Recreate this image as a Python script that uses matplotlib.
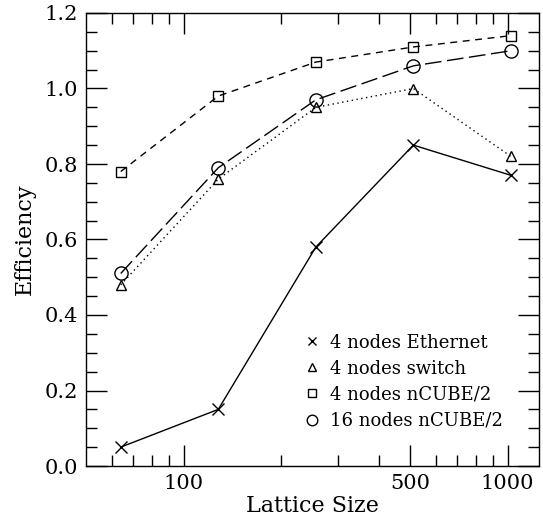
import numpy as np
import matplotlib
matplotlib.use("Agg")
import matplotlib.pyplot as plt
from matplotlib.ticker import FixedLocator, NullFormatter, FixedFormatter, MultipleLocator

plt.rcParams['font.family'] = ['DejaVu Serif']

# Lattice sizes and efficiencies
lattice = [64, 128, 256, 512, 1024]
eth_4 = [0.05, 0.15, 0.58, 0.85, 0.77]
switch_4 = [0.48, 0.76, 0.95, 1.00, 0.82]
ncube_4 = [0.78, 0.98, 1.07, 1.11, 1.14]
ncube_16 = [0.51, 0.79, 0.97, 1.06, 1.10]

fig = plt.figure(figsize=(5.43, 5.18), dpi=100)
ax = fig.add_axes([86/543, 52/518, 453/543, 453/518])

ax.plot(lattice, eth_4, color='k', lw=1.0, ls='-', marker='x', ms=8, mew=1.0,
        label='4 nodes Ethernet')
ax.plot(lattice, switch_4, color='k', lw=1.0, ls=(0, (1, 2.5)), marker='^', ms=7.5,
        mfc='none', mew=1.0, label='4 nodes switch')
ax.plot(lattice, ncube_4, color='k', lw=1.0, ls=(0, (5, 4)), marker='s', ms=6.5,
        mfc='none', mew=1.0, label='4 nodes nCUBE/2')
ax.plot(lattice, ncube_16, color='k', lw=1.0, ls=(0, (12, 4)), marker='o', ms=9.5,
        mfc='none', mew=1.0, label='16 nodes nCUBE/2')

ax.set_xscale('log')
ax.set_xlim(50, 1250)
ax.set_ylim(0, 1.2)

ax.xaxis.set_major_locator(FixedLocator([100, 500, 1000]))
ax.xaxis.set_major_formatter(FixedFormatter(['100', '500', '1000']))
minors = [60, 70, 80, 90, 200, 300, 400, 600, 700, 800, 900]
ax.xaxis.set_minor_locator(FixedLocator(minors))
ax.xaxis.set_minor_formatter(NullFormatter())

ax.yaxis.set_major_locator(MultipleLocator(0.2))
ax.yaxis.set_minor_locator(MultipleLocator(0.05))
ax.yaxis.set_major_formatter(matplotlib.ticker.FormatStrFormatter('%.1f'))

ax.tick_params(which='both', direction='in', top=True, right=True, width=1.0,
               labelsize=15, pad=6)
ax.tick_params(which='major', length=15)
ax.tick_params(which='minor', length=8)
for s in ax.spines.values():
    s.set_linewidth(1.0)

ax.set_xlabel('Lattice Size', fontsize=16, labelpad=1)
ax.set_ylabel('Efficiency', fontsize=16, labelpad=6)

leg = ax.legend(loc='lower right', frameon=False, fontsize=13, handlelength=0,
                handletextpad=1.0, labelspacing=0.45, borderaxespad=1.6,
                markerscale=0.8)
for h in leg.legend_handles:
    h.set_linestyle('none')

fig.savefig('out.png', dpi=100)
